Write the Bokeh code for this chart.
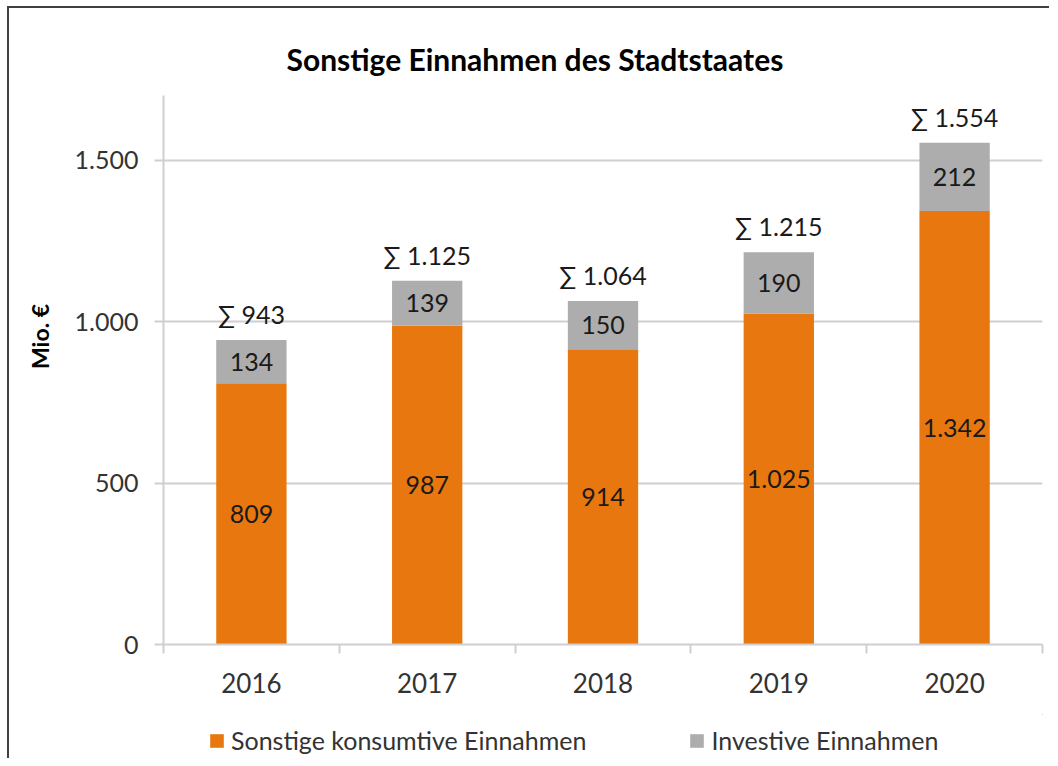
from bokeh.plotting import figure
from bokeh.layouts import column
from bokeh.models import ColumnDataSource, LabelSet, FixedTicker, Legend, LegendItem, Range1d
from bokeh.core.properties import value
from bokeh.embed import file_html
from bokeh.resources import INLINE

years = ["2016", "2017", "2018", "2019", "2020"]
konsumtiv = [809, 987, 914, 1025, 1342]
investiv = [134, 139, 150, 190, 212]
summen = [943, 1125, 1064, 1215, 1554]
y_ticks = [0, 500, 1000, 1500]
series_names = ["Sonstige konsumtive Einnahmen", "Investive Einnahmen"]

ORANGE = "#E8770F"
GRAY = "#ADADAD"
AXIS = "#CFCFCF"
FONT = "Lato"
NBSP = "\u00a0"


def de(v):
    return f"{v:,}".replace(",", ".")


x = [i + 0.5 for i in range(len(years))]
src = ColumnDataSource(dict(
    x=x,
    konsumtiv=konsumtiv,
    investiv=investiv,
    top=[a + b for a, b in zip(konsumtiv, investiv)],
    k_mid=[a / 2 for a in konsumtiv],
    i_mid=[a + b / 2 for a, b in zip(konsumtiv, investiv)],
    k_lab=[de(v) for v in konsumtiv],
    i_lab=[de(v) for v in investiv],
    s_lab=["\u2211 " + de(v) for v in summen],
))

p = figure(width=1040, height=706, x_range=Range1d(0, len(years)), y_range=Range1d(0, 1700),
           output_backend="svg", toolbar_location=None,
           min_border_left=154, min_border_right=7, min_border_top=87, min_border_bottom=70)
p.outline_line_color = None
p.background_fill_color = "white"
p.border_fill_color = "white"

rs = p.vbar_stack(["konsumtiv", "investiv"], x="x", width=0.4, color=[ORANGE, GRAY],
                  line_color=None, source=src)

# title
p.title.text = "Sonstige Einnahmen des Stadtstaates"
p.title.align = "left"
p.title.text_font = FONT
p.title.text_font_size = "30px"
p.title.text_font_style = "bold"
p.title.text_color = "#000000"
p.title.offset = 123
p.title.standoff = 38

# grid
p.xgrid.grid_line_color = None
p.ygrid.ticker = FixedTicker(ticks=y_ticks)
p.ygrid.grid_line_color = AXIS
p.ygrid.grid_line_width = 2

# y axis
ya = p.yaxis[0]
ya.ticker = FixedTicker(ticks=y_ticks)
ya.major_label_overrides = {t: de(t) for t in y_ticks}
ya.major_tick_out = 9
ya.major_tick_in = 0
ya.minor_tick_line_color = None
ya.axis_line_color = AXIS
ya.axis_line_width = 2
ya.major_tick_line_color = AXIS
ya.major_tick_line_width = 2
ya.major_label_standoff = 16
ya.major_label_text_font = FONT
ya.major_label_text_font_size = "25px"
ya.major_label_text_color = "#333333"
ya.axis_label = NBSP * 12 + "Mio. \u20ac"
ya.axis_label_text_font = FONT
ya.axis_label_text_font_size = "23px"
ya.axis_label_text_font_style = "bold"
ya.axis_label_text_color = "#000000"
ya.axis_label_standoff = 18

# x axis
xa = p.xaxis[0]
xa.ticker = FixedTicker(ticks=x, minor_ticks=list(range(len(years) + 1)))
xa.major_label_overrides = {xv: yr for xv, yr in zip(x, years)}
xa.major_tick_out = 0
xa.major_tick_in = 0
xa.major_tick_line_color = None
xa.minor_tick_out = 9
xa.minor_tick_in = 0
xa.minor_tick_line_color = AXIS
xa.minor_tick_line_width = 2
xa.axis_line_color = AXIS
xa.axis_line_width = 2
xa.major_label_standoff = 19
xa.major_label_text_font = FONT
xa.major_label_text_font_size = "26px"
xa.major_label_text_color = "#333333"

common = dict(source=src, x="x", text_align="center", text_baseline="middle",
              text_font=value(FONT), text_font_size="25px", text_color="#1a1a1a")
p.add_layout(LabelSet(y="k_mid", text="k_lab", **common))
p.add_layout(LabelSet(y="i_mid", text="i_lab", **common))
p.add_layout(LabelSet(y="top", text="s_lab", y_offset=26, **common))

# legend strip below the chart (its frame is aligned with the chart's frame by the column);
# the proxy bars lie far outside this strip's ranges, only their legend swatches show
pl = figure(width=1040, height=44, x_range=Range1d(-20, -15), y_range=Range1d(-20000, -19000),
            output_backend="svg", toolbar_location=None,
            x_axis_location=None, y_axis_location=None, min_border=0)
pl.outline_line_color = None
pl.grid.grid_line_color = None
lr = pl.vbar_stack(["konsumtiv", "investiv"], x="x", width=0.4, color=[ORANGE, GRAY],
                   line_color=None, source=src)
legend = Legend(items=[LegendItem(label=n, renderers=[r]) for n, r in zip(series_names, lr)],
                orientation="horizontal", location=(45, 3),
                glyph_width=17, glyph_height=17, label_standoff=6, spacing=102,
                padding=0, margin=0, border_line_color=None, background_fill_alpha=0,
                label_text_font=FONT, label_text_font_size="25px", label_text_color="#333333")
pl.add_layout(legend)

layout = column(p, pl, spacing=0)
layout.styles = {"margin-left": "7px", "margin-top": "6px",
                 "border-left": "2px solid #404040", "border-top": "2px solid #404040"}

open("out.html", "w").write(file_html(layout, INLINE))
